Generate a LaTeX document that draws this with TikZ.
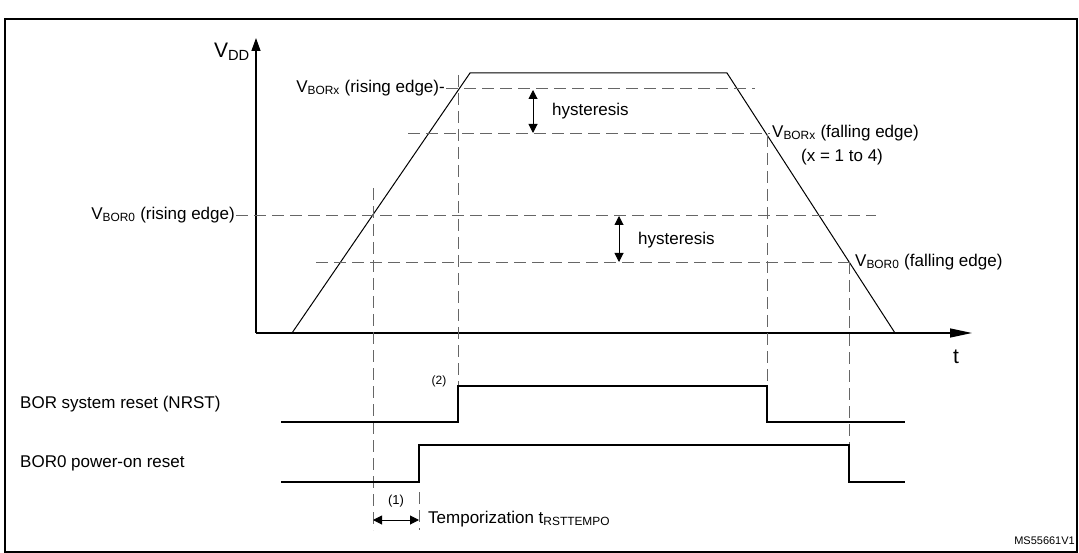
\documentclass[tikz,border=0pt]{standalone}
\usepackage{fontspec}
\setmainfont{Liberation Sans}
\usetikzlibrary{arrows.meta}
\begin{document}
\begin{tikzpicture}[x=1pt,y=-1pt,
  sig/.style={line width=1.3pt},
  dsh/.style={gray!80!black,line width=0.9pt,dash pattern=on 12pt off 6pt},
  lbl/.style={font=\fontsize{17}{19}\selectfont,inner sep=1pt},
  dbl/.style={line width=1pt,{Triangle[length=9pt,width=9pt]}-{Triangle[length=9pt,width=9pt]}}]
\useasboundingbox (0,0) rectangle (1079,553);
\draw[line width=1.2pt] (5,19) rectangle (1077,552);
% axes
\coordinate (o) at (256,333);
\coordinate (ytop) at (256,38);
\coordinate (xend) at (972,333);
\draw[sig,-{Triangle[length=13pt,width=9pt]}] (o) -- (ytop);
\draw[sig,-{Triangle[length=22pt,width=9pt]}] (o) -- (xend);
\node[lbl,anchor=east,font=\fontsize{21}{23}\selectfont] (vdd) at (251,52) {V\textsubscript{DD}};
\node[lbl,font=\fontsize{21}{23}\selectfont] (t) at (956,357) {t};
% trapezoid
\coordinate (p0) at (292,333); \coordinate (p1) at (470,73);
\coordinate (p2) at (727,73); \coordinate (p3) at (895,333);
\draw[line width=1pt] (p0) -- (p1) -- (p2) -- (p3);
% thresholds
\node[lbl,anchor=east] (bxr) at (446,88) {V\textsubscript{BORx} (rising edge)-};
\coordinate (bxr2) at (755,88);
\draw[dsh] (bxr.east) -- (bxr2);
\coordinate (bxf1) at (408,133); \coordinate (bxf2) at (770,133);
\draw[dsh] (bxf1) -- (bxf2);
\node[lbl,anchor=west] (bxf) at (771,133) {V\textsubscript{BORx} (falling edge)};
\node[lbl] (xeq) at (842,157) {(x = 1 to 4)};
\node[lbl,anchor=east] (b0r) at (236,215) {V\textsubscript{BOR0} (rising edge)};
\coordinate (b0r2) at (876,215);
\draw[dsh] (b0r.east) -- (b0r2);
\coordinate (b0f1) at (316,262); \coordinate (b0f2) at (850,262);
\draw[dsh] (b0f1) -- (b0f2);
\node[lbl,anchor=west] (b0f) at (854,262) {V\textsubscript{BOR0} (falling edge)};
% hysteresis
\coordinate (h1a) at (533,90); \coordinate (h1b) at (533,133);
\draw[dbl] (h1a) -- (h1b);
\node[lbl,anchor=west] (hy1) at (551,111) {hysteresis};
\coordinate (h2a) at (619,216); \coordinate (h2b) at (619,262);
\draw[dbl] (h2a) -- (h2b);
\node[lbl,anchor=west] (hy2) at (637,240) {hysteresis};
% vertical dashed
\coordinate (v1a) at (373,188); \coordinate (v1b) at (373,530);
\draw[dsh] (v1a) -- (v1b);
\coordinate (v2a) at (458,75); \coordinate (v2b) at (458,386);
\draw[dsh] (v2a) -- (v2b);
\coordinate (v3a) at (419,492); \coordinate (v3b) at (419,530);
\draw[dsh] (v3a) -- (v3b);
\coordinate (v4a) at (767,135); \coordinate (v4b) at (767,386);
\draw[dsh] (v4a) -- (v4b);
\coordinate (v5a) at (849,262); \coordinate (v5b) at (849,445);
\draw[dsh] (v5a) -- (v5b);
% signals
\node[lbl,anchor=west] (nrst) at (19,404) {BOR system reset (NRST)};
\draw[sig] (281,422) -- (458,422) -- (458,386) -- (767,386) -- (767,422) -- (905,422);
\node[lbl,anchor=west] (bor0) at (19,463) {BOR0 power-on reset};
\draw[sig] (281,482) -- (419,482) -- (419,445) -- (849,445) -- (849,482) -- (905,482);
\node[lbl,font=\fontsize{12}{14}\selectfont] (n2) at (439,381) {(2)};
\node[lbl,font=\fontsize{13}{15}\selectfont] (n1) at (396,501) {(1)};
\coordinate (ta) at (373,520); \coordinate (tb) at (419,520);
\draw[dbl] (ta) -- (tb);
\node[lbl,anchor=west] (tmp) at (427,519) {Temporization t\textsubscript{RSTTEMPO}};
\node[lbl,anchor=east,font=\fontsize{11}{13}\selectfont] (ms) at (1076,541) {MS55661V1};
\end{tikzpicture}
\end{document}
